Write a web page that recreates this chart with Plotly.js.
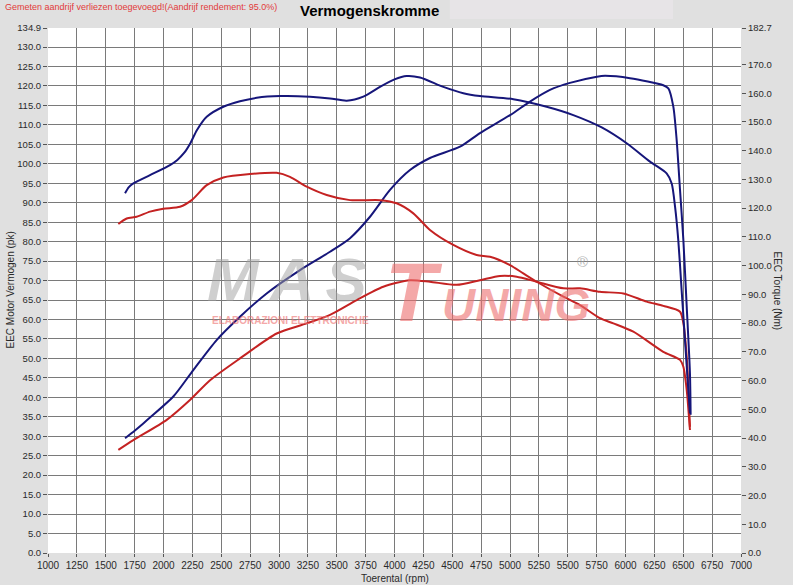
<!DOCTYPE html>
<html>
<head>
<meta charset="utf-8">
<script src="https://cdn.plot.ly/plotly-3.0.1.min.js"></script>
<style>html,body{margin:0;padding:0;background:#e0e0e0;}#chart{width:793px;height:585px;}</style>
</head>
<body>
<div id="chart"></div>
<script>
// ---- data ----
const bluePowerRpm = [1667,1753,1825,1883,2085,2258,2460,2662,2893,3182,3442,3615,3788,3961,4134,4307,4567,4740,5000,5173,5346,5519,5753,5823,6039,6327,6371,6414,6443,6472,6501,6530,6558,6564];
const bluePower    = [29.5,31.5,33.3,34.8,40.2,47.0,54.7,60.7,66.7,72.7,77.4,80.9,86.4,93.3,98.4,101.5,104.4,107.9,112.5,116.0,119.0,120.8,122.4,122.6,122.0,120.2,119.4,114.7,106.1,93.3,80.4,63.3,46.2,35.5];

const blueTorqueRpm = [1667,1700,1739,1883,2056,2120,2180,2235,2290,2374,2518,2662,2807,3009,3268,3442,3586,3730,3874,4000,4105,4221,4423,4596,4740,5029,5317,5548,5794,6010,6212,6356,6400,6429,6457,6486,6515,6544,6558];
const blueTorque    = [125.2,127.3,128.6,131.5,135.0,136.8,139.3,142.8,147.2,151.8,155.3,157.2,158.4,159.0,158.8,158.2,157.4,158.8,162.2,164.8,166.0,165.5,162.2,160.0,159.0,157.9,155.3,152.4,148.1,142.6,136.2,132.1,128.6,120.5,108.9,91.5,74.1,56.7,48.6];

const redPowerRpm = [1609,1739,2028,2229,2403,2662,2980,3240,3442,3673,3903,4134,4307,4538,4740,4913,5058,5231,5462,5606,5779,5981,6183,6327,6472,6501,6530,6558];
const redPower    = [26.5,29.0,34.2,39.3,44.4,50.0,56.4,59.0,61.2,65.0,68.4,70.1,69.7,68.9,70.1,71.2,71.0,69.7,68.0,68.0,67.1,66.7,64.6,63.5,62.0,59.0,50.4,32.4];

const redTorqueRpm = [1609,1681,1768,1883,1998,2143,2244,2374,2518,2749,2980,3095,3240,3413,3615,3874,4019,4163,4307,4509,4711,4827,5000,5115,5231,5462,5606,5779,5895,6068,6327,6472,6501,6530,6558];
const redTorque    = [114.5,116.4,117.0,118.8,119.8,120.5,122.8,128.0,130.7,131.9,132.3,130.9,127.5,124.6,122.8,122.8,121.7,118.2,112.4,107.2,103.7,103.1,100.2,97.3,94.4,89.2,86.3,81.7,79.9,77.0,70.0,67.2,64.8,56.7,42.8];

const xTicks = [1000,1250,1500,1750,2000,2250,2500,2750,3000,3250,3500,3750,4000,4250,4500,4750,5000,5250,5500,5750,6000,6250,6500,6750,7000];
const leftTicks = [0,5,10,15,20,25,30,35,40,45,50,55,60,65,70,75,80,85,90,95,100,105,110,115,120,125,130,134.9];
const rightTicks = [0,10,20,30,40,50,60,70,80,90,100,110,120,130,140,150,160,170,182.7];

const titleText = "Vermogenskromme";
const noteText = "Gemeten aandrijf verliezen toegevoegd!(Aandrijf rendement: 95.0%)";
const xTitle = "Toerental (rpm)";
const leftTitle = "EEC Motor Vermogen (pk)";
const rightTitle = "EEC Torque (Nm)";
const logoA = "MAS";
const logoB1 = "T";
const logoB2 = "UNING";
const logoSub = "ELABORAZIONI ELETTRONICHE";
const logoReg = "®";

const BLUE = "#16167a";
const RED = "#c42222";
const FONT = "Liberation Sans, Arial, sans-serif";

const lineStyle = (c) => ({color: c, width: 2, shape: "spline", smoothing: 0.7});

const traces = [
  {x: redPowerRpm, y: redPower, mode: "lines", line: lineStyle(RED), yaxis: "y", hoverinfo: "none"},
  {x: redTorqueRpm, y: redTorque, mode: "lines", line: lineStyle(RED), yaxis: "y2", hoverinfo: "none"},
  {x: bluePowerRpm, y: bluePower, mode: "lines", line: lineStyle(BLUE), yaxis: "y", hoverinfo: "none"},
  {x: blueTorqueRpm, y: blueTorque, mode: "lines", line: lineStyle(BLUE), yaxis: "y2", hoverinfo: "none"}
];

const layout = {
  width: 793, height: 585,
  margin: {l: 48, r: 52, t: 28, b: 32},
  paper_bgcolor: "#e0e0e0",
  plot_bgcolor: "#ffffff",
  showlegend: false,
  font: {family: FONT, size: 9, color: "#2a2a2a"},
  xaxis: {
    range: [1000, 7000], tickvals: xTicks, ticktext: xTicks.map(String),
    showgrid: true, gridcolor: "#7a7a7a", gridwidth: 1,
    ticks: "outside", ticklen: 3, tickcolor: "#555",
    tickfont: {family: FONT, size: 10, color: "#2a2a2a"},
    zeroline: false, showline: false, fixedrange: true
  },
  yaxis: {
    range: [0, 134.9], tickvals: leftTicks, ticktext: leftTicks.map(v => v.toFixed(1)),
    showgrid: true, gridcolor: "#7a7a7a", gridwidth: 1,
    ticks: "outside", ticklen: 4, tickcolor: "#555",
    tickfont: {family: FONT, size: 9.5, color: "#2a2a2a"},
    zeroline: false, showline: false, fixedrange: true
  },
  yaxis2: {
    range: [0, 182.7], overlaying: "y", side: "right",
    tickvals: rightTicks, ticktext: rightTicks.map(v => v.toFixed(1)),
    showgrid: false, ticks: "outside", ticklen: 4, tickcolor: "#555",
    tickfont: {family: FONT, size: 9.5, color: "#2a2a2a"},
    zeroline: false, showline: false, fixedrange: true
  },
  shapes: [
    {type: "rect", xref: "paper", yref: "paper", x0: 0.58, x1: 0.902, y0: 1.017, y1: 1.06, fillcolor: "#e7e4e7", line: {width: 0}, layer: "below"}
  ],
  annotations: [
    {text: "<b>" + titleText + "</b>", xref: "paper", yref: "paper", x: 0.4646, y: 1.034, xanchor: "center", yanchor: "middle", showarrow: false, font: {family: FONT, size: 15, color: "#000"}},
    {text: noteText, xref: "paper", yref: "paper", x: -0.0649, y: 1.04, xanchor: "left", yanchor: "middle", showarrow: false, font: {family: FONT, size: 9, color: "#e23a3a"}},
    {text: xTitle, xref: "paper", yref: "paper", x: 0.5, y: -0.048, xanchor: "center", yanchor: "middle", showarrow: false, font: {family: FONT, size: 10, color: "#2a2a2a"}},
    {text: leftTitle, xref: "paper", yref: "paper", x: -0.0548, y: 0.5, xanchor: "center", yanchor: "middle", textangle: -90, showarrow: false, font: {family: FONT, size: 10, color: "#2a2a2a"}},
    {text: rightTitle, xref: "paper", yref: "paper", x: 1.052, y: 0.5, xanchor: "center", yanchor: "middle", textangle: 90, showarrow: false, font: {family: FONT, size: 10, color: "#2a2a2a"}},
    // watermark logo
    {text: "<b><i><span style='letter-spacing:11px'>" + logoA + "</span></i></b>", xref: "paper", yref: "paper", x: 0.2265, y: 0.452, xanchor: "left", yanchor: "bottom", showarrow: false, opacity: 0.5, font: {family: FONT, size: 62, color: "#a0a0a0", weight: "bold", style: "italic"}},
    {text: logoB1, xref: "paper", yref: "paper", x: 0.484, y: 0.404, xanchor: "left", yanchor: "bottom", showarrow: false, opacity: 0.6, font: {family: FONT, size: 84, color: "#ee6f6f", weight: "bold", style: "italic"}},
    {text: logoB2, xref: "paper", yref: "paper", x: 0.565, y: 0.419, xanchor: "left", yanchor: "bottom", showarrow: false, opacity: 0.6, font: {family: FONT, size: 46, color: "#ee6f6f", weight: "bold", style: "italic"}},
    {text: logoSub, xref: "paper", yref: "paper", x: 0.35, y: 0.443, xanchor: "center", yanchor: "middle", showarrow: false, opacity: 0.6, font: {family: FONT, size: 10, color: "#ee6f6f", weight: "bold"}},
    {text: logoReg, xref: "paper", yref: "paper", x: 0.771, y: 0.555, xanchor: "center", yanchor: "middle", showarrow: false, opacity: 0.7, font: {family: FONT, size: 15, color: "#999"}}
  ]
};

Plotly.newPlot("chart", traces, layout, {staticPlot: true, displayModeBar: false});
</script>
</body>
</html>
